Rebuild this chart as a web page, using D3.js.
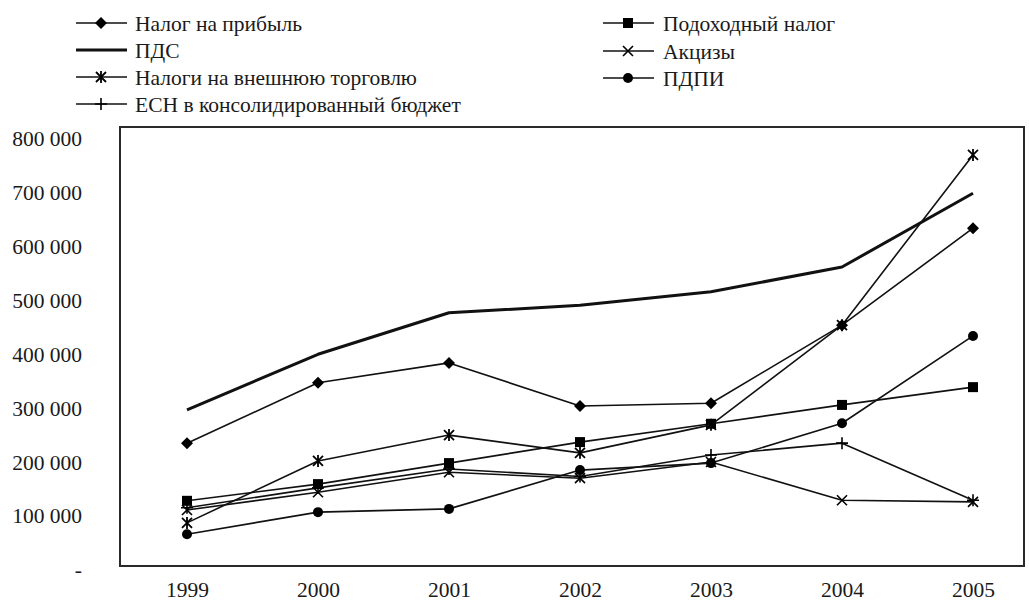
<!DOCTYPE html>
<html>
<head>
<meta charset="utf-8">
<script src="https://cdn.jsdelivr.net/npm/d3@7"></script>
<style>
  html, body { margin: 0; padding: 0; background: #fff; }
  svg { display: block; }
  text { font-family: "Liberation Serif", "Times New Roman", serif; fill: #1a1a1a; }
</style>
</head>
<body>
<svg id="chart" width="1029" height="602"></svg>
<script>
// ---- data ----
const years = ["1999", "2000", "2001", "2002", "2003", "2004", "2005"];
const yTicks = [0, 100000, 200000, 300000, 400000, 500000, 600000, 700000, 800000];

const nalogNaPribyl = [228000, 340000, 377000, 297000, 302000, 447000, 627000];
const podohodnyNalog = [121000, 152000, 191000, 230000, 264000, 299000, 332000];
const nds = [290000, 393000, 470000, 484000, 509000, 555000, 692000];
const akcizy = [104000, 137000, 174000, 163000, 193000, 122000, 119000];
const vneshTorgovlya = [80000, 195000, 243000, 210000, 262000, 447000, 763000];
const ndpi = [59000, 100000, 106000, 178000, 191000, 265000, 427000];
const esn = [108000, 145000, 180000, 166000, 206000, 228000, 122000];

const seriesNames = [
  "Налог на прибыль", "Подоходный налог", "ПДС", "Акцизы",
  "Налоги на внешнюю торговлю", "ПДПИ", "ЕСН в консолидированный бюджет"
];
const seriesValues = [nalogNaPribyl, podohodnyNalog, nds, akcizy, vneshTorgovlya, ndpi, esn];
const seriesMarkers = ["diamond", "square", "none", "times", "asterisk", "circle", "plus"];

// ---- layout ----
const svg = d3.select("#chart");
const frame = { left: 120, right: 1024, top: 127, bottom: 566 };
const FS = 21.5;

const x = d3.scalePoint().domain(years).range([187, 973]);
const y = d3.scaleLinear().domain([0, 800000]).range([566, 135]);

// frame
svg.append("rect")
  .attr("x", frame.left).attr("y", frame.top)
  .attr("width", frame.right - frame.left).attr("height", frame.bottom - frame.top)
  .attr("fill", "none").attr("stroke", "#2a2a2a").attr("stroke-width", 2);

// y axis
const fmt = d => d === 0 ? "-" : d3.format(",")(d).replace(/,/g, " ");
const yAxis = svg.append("g")
  .attr("transform", "translate(90,0)")
  .call(d3.axisLeft(y).tickValues(yTicks).tickSize(0).tickPadding(8).tickFormat(fmt));
yAxis.select(".domain").remove();
yAxis.selectAll("text").attr("font-size", FS).attr("font-family", "Liberation Serif")
  .attr("fill", "#1a1a1a").attr("dy", "0.5em");

// x axis
const xAxis = svg.append("g")
  .attr("transform", "translate(0,578)")
  .call(d3.axisBottom(x).tickSize(0).tickPadding(4));
xAxis.select(".domain").remove();
xAxis.selectAll("text").attr("font-size", FS).attr("font-family", "Liberation Serif").attr("fill", "#1a1a1a");

// marker drawer
function drawMarker(g, type, cx, cy) {
  const s = 5;
  if (type === "diamond") {
    g.append("path").attr("d", `M${cx},${cy - 6}L${cx + 6},${cy}L${cx},${cy + 6}L${cx - 6},${cy}Z`).attr("fill", "#000");
  } else if (type === "square") {
    g.append("rect").attr("x", cx - 5).attr("y", cy - 5).attr("width", 10).attr("height", 10).attr("fill", "#000");
  } else if (type === "circle") {
    g.append("circle").attr("cx", cx).attr("cy", cy).attr("r", 5).attr("fill", "#000");
  } else if (type === "times") {
    g.append("path").attr("d", `M${cx - s},${cy - s}L${cx + s},${cy + s}M${cx - s},${cy + s}L${cx + s},${cy - s}`)
      .attr("stroke", "#000").attr("stroke-width", 1.6).attr("fill", "none");
  } else if (type === "asterisk") {
    g.append("path").attr("d", `M${cx - s},${cy - s}L${cx + s},${cy + s}M${cx - s},${cy + s}L${cx + s},${cy - s}M${cx},${cy - s - 1}L${cx},${cy + s + 1}`)
      .attr("stroke", "#000").attr("stroke-width", 1.8).attr("fill", "none");
  } else if (type === "plus") {
    g.append("path").attr("d", `M${cx},${cy - 6}L${cx},${cy + 6}M${cx - 6},${cy}L${cx + 6},${cy}`)
      .attr("stroke", "#000").attr("stroke-width", 1.6).attr("fill", "none");
  }
}

// lines
const line = d3.line().x((d, i) => x(years[i])).y(d => y(d));
seriesValues.forEach((vals, si) => {
  const g = svg.append("g");
  const thick = seriesMarkers[si] === "none";
  g.append("path").datum(vals).attr("d", line)
    .attr("fill", "none").attr("stroke", "#111")
    .attr("stroke-width", thick ? 3 : 1.6)
    .attr("stroke-linejoin", "round");
  vals.forEach((v, i) => drawMarker(g, seriesMarkers[si], x(years[i]), y(v)));
});

// legend
const legendPos = [
  { lx: 76, tx: 135, y: 23 },   // Налог на прибыль
  { lx: 603, tx: 663, y: 23 },  // Подоходный налог
  { lx: 76, tx: 135, y: 50 },   // ПДС
  { lx: 603, tx: 663, y: 51 },  // Акцизы
  { lx: 76, tx: 135, y: 77 },   // Внешняя торговля
  { lx: 603, tx: 663, y: 78 },  // ПДПИ
  { lx: 76, tx: 135, y: 104 }   // ЕСН
];
seriesNames.forEach((name, si) => {
  const p = legendPos[si];
  const g = svg.append("g");
  const thick = seriesMarkers[si] === "none";
  g.append("line").attr("x1", p.lx).attr("x2", p.lx + 51).attr("y1", p.y).attr("y2", p.y)
    .attr("stroke", "#111").attr("stroke-width", thick ? 3 : 1.6);
  drawMarker(g, seriesMarkers[si], p.lx + 25, p.y);
  g.append("text").attr("x", p.tx).attr("y", p.y).attr("dy", "0.35em")
    .attr("font-size", FS).text(name);
});
</script>
</body>
</html>
